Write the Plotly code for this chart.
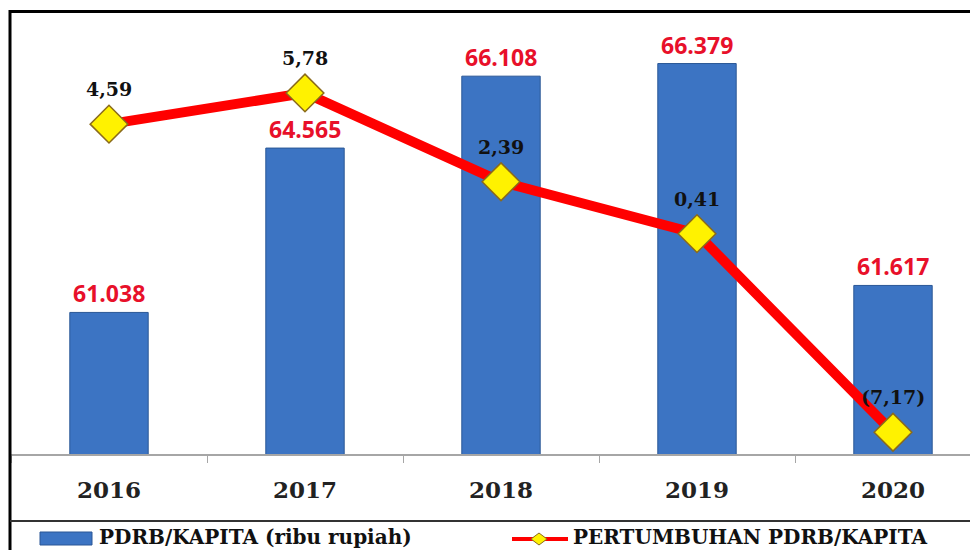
import plotly.graph_objects as go

years = ["2016", "2017", "2018", "2019", "2020"]
pdrb_kapita = [61038, 64565, 66108, 66379, 61617]
pdrb_labels = ["61.038", "64.565", "66.108", "66.379", "61.617"]
pertumbuhan = [4.59, 5.78, 2.39, 0.41, -7.17]
pertumbuhan_labels = ["4,59", "5,78", "2,39", "0,41", "(7,17)"]
legend_names = ["PDRB/KAPITA (ribu rupiah)", "PERTUMBUHAN PDRB/KAPITA"]

W, H = 970, 550
ML, MR, MT, MB = 11, 0, 12, 96
PW, PH = W - ML - MR, H - MT - MB


def px(x):
    return (x - ML) / PW


def py(y):
    return 1 - (y - MT) / PH


fig = go.Figure()
fig.add_trace(go.Bar(
    x=years, y=pdrb_kapita, width=0.4, name=legend_names[0],
    marker=dict(color="#3C74C3", line=dict(color="#2A5796", width=1)),
    showlegend=False, yaxis="y",
))
fig.add_trace(go.Scatter(
    x=years, y=pertumbuhan, mode="lines+markers", name=legend_names[1],
    line=dict(color="#FF0000", width=10),
    marker=dict(symbol="diamond", size=29, color="#FFF200",
                line=dict(color="#8A6A1C", width=1.5)),
    showlegend=False, yaxis="y2",
))

ann = []
for i, (v, t) in enumerate(zip(pdrb_kapita, pdrb_labels)):
    ann.append(dict(x=i, y=v, xref="x", yref="y", text=t, showarrow=False,
                    yshift=19, font=dict(family="Open Sans", size=23, color="#E8102A", weight="bold")))
for i, (v, t) in enumerate(zip(pertumbuhan, pertumbuhan_labels)):
    ann.append(dict(x=i, y=v, xref="x", yref="y2", text=t, showarrow=False,
                    yshift=35, font=dict(family="DejaVu Serif", size=19, color="#111111", weight="bold")))

# legend texts
ann.append(dict(x=px(98), y=py(537), xref="paper", yref="paper", text=legend_names[0],
                showarrow=False, xanchor="left", yanchor="middle", borderpad=0,
                font=dict(family="DejaVu Serif", size=20, color="#111111", weight="bold")))
ann.append(dict(x=px(572), y=py(537), xref="paper", yref="paper", text=legend_names[1],
                showarrow=False, xanchor="left", yanchor="middle", borderpad=0,
                font=dict(family="DejaVu Serif", size=20, color="#111111", weight="bold")))

shapes = [
    # frame
    dict(type="line", xref="paper", yref="paper", x0=px(10), x1=px(10), y0=py(10), y1=py(560),
         line=dict(color="#000000", width=3)),
    dict(type="line", xref="paper", yref="paper", x0=px(9), x1=px(980), y0=py(11.5), y1=py(11.5),
         line=dict(color="#000000", width=3)),
    dict(type="line", xref="paper", yref="paper", x0=px(10), x1=px(980), y0=py(521), y1=py(521),
         line=dict(color="#333333", width=2)),
    # legend symbols
    dict(type="rect", xref="paper", yref="paper", x0=px(40), x1=px(92), y0=py(532), y1=py(545),
         fillcolor="#3C74C3", line=dict(color="#2A5796", width=1)),
    dict(type="line", xref="paper", yref="paper", x0=px(512), x1=px(568), y0=py(539), y1=py(539),
         line=dict(color="#FF0000", width=4)),
    dict(type="path", xref="paper", yref="paper",
         path=f"M {px(531)} {py(539)} L {px(539)} {py(533)} L {px(547)} {py(539)} L {px(539)} {py(545)} Z",
         fillcolor="#FFF200", line=dict(color="#8A6A1C", width=1)),
]

fig.update_layout(
    width=W, height=H, margin=dict(l=ML, r=MR, t=MT, b=MB),
    paper_bgcolor="white", plot_bgcolor="white",
    xaxis=dict(type="category", range=[-0.5, (W - ML - MR) / 196 - 0.5],
               showline=True, linecolor="#A6A6A6", linewidth=1.5,
               ticks="outside", tickson="boundaries", ticklen=7, tickcolor="#A6A6A6",
               ticklabelstandoff=15, showgrid=False,
               tickfont=dict(family="DejaVu Serif", size=23, color="#222222", weight="bold")),
    yaxis=dict(range=[58000, 58000 + PH / 46.6 * 1000], visible=False, showgrid=False),
    yaxis2=dict(range=[-8, -8 + PH / 26.2], overlaying="y", visible=False, showgrid=False),
    annotations=ann, shapes=shapes, showlegend=False,
)

fig.write_html("out.html", config={"displayModeBar": False},
               post_script="document.body.style.margin='0px';")
